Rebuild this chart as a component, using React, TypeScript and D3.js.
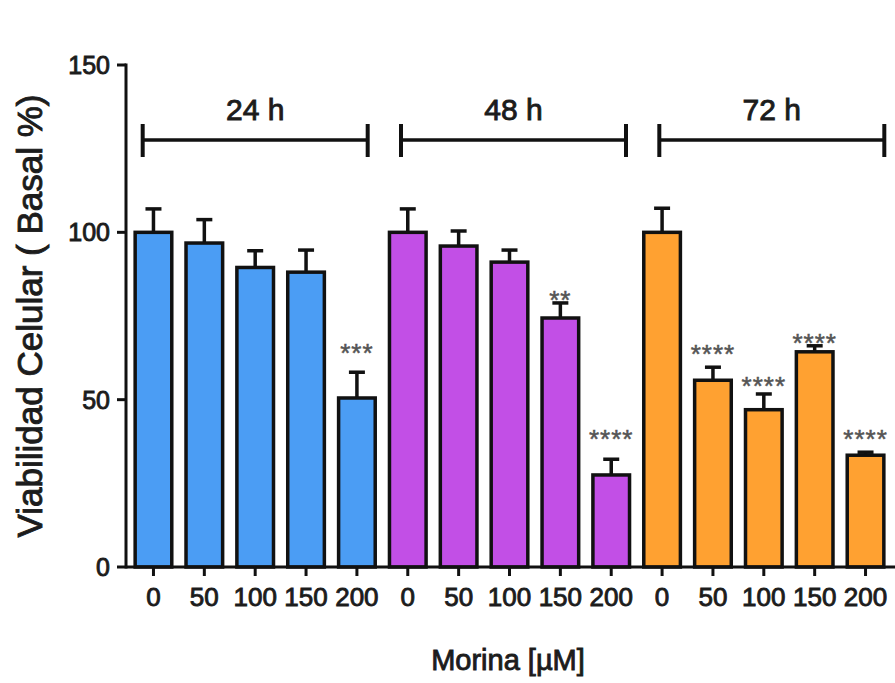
import React from "react";
import * as d3 from "d3";

const groups = ["24 h", "48 h", "72 h"];
const doses = ["0", "50", "100", "150", "200"];
const means24 = [100, 96.8, 89.5, 88.1, 50.5];
const means48 = [100, 95.9, 91.1, 74.4, 27.5];
const means72 = [100, 55.8, 47, 64.3, 33.4];
const sem24 = [7, 7, 5, 6.6, 7.7];
const sem48 = [7, 4.5, 3.6, 4.5, 4.7];
const sem72 = [7.2, 3.9, 4.7, 1.8, 0.9];
const stars24 = ["", "", "", "", "***"];
const stars48 = ["", "", "", "**", "****"];
const stars72 = ["", "****", "****", "****", "****"];
// star label heights (in y-axis units)
const starY24 = [0, 0, 0, 0, 65.7];
const starY48 = [0, 0, 0, 81.5, 40];
const starY72 = [0, 65.4, 55.9, 68.7, 40];
const yTicks = [0, 50, 100, 150];
const colors = ["#4b9df4", "#c24fe6", "#ffa131"];

const W = 895;
const H = 683;
const FONT = "'Liberation Sans', Arial, sans-serif";
const INK = "#1c1c1c";

type Row = { key: string; group: number; dose: string; mean: number; sem: number; star: string; starY: number };

const allMeans = [means24, means48, means72];
const allSem = [sem24, sem48, sem72];
const allStars = [stars24, stars48, stars72];
const allStarY = [starY24, starY48, starY72];

const rows: Row[] = [];
groups.forEach((g, gi) => {
  doses.forEach((d, di) => {
    rows.push({
      key: `${gi}-${d}`,
      group: gi,
      dose: d,
      mean: allMeans[gi][di],
      sem: allSem[gi][di],
      star: allStars[gi][di],
      starY: allStarY[gi][di],
    });
  });
});

const txt = { fill: INK, stroke: INK, strokeWidth: 0.9 };

export default function App() {
  const axisX = 126;
  const y = d3.scaleLinear().domain([0, 150]).range([567, 65]);
  const x = d3
    .scaleBand<string>()
    .domain(rows.map((r) => r.key))
    .range([axisX, 893])
    .paddingInner(0.28)
    .paddingOuter(0.18);
  const bw = x.bandwidth();
  const cx = (k: string) => (x(k) as number) + bw / 2;
  const y0 = y(0);

  return (
    <svg
      width={W}
      height={H}
      style={{ position: "fixed", left: 0, top: 0, background: "#fff" }}
      fontFamily={FONT}
    >
      <rect x={0} y={0} width={W} height={H} fill="#fff" />
      {/* bars */}
      {rows.map((r) => {
        const top = y(r.mean);
        const errTop = y(r.mean + r.sem);
        const c = cx(r.key);
        return (
          <g key={r.key}>
            <line x1={c} x2={c} y1={top} y2={errTop} stroke="#111" strokeWidth={3.5} />
            <line x1={c - 8} x2={c + 8} y1={errTop} y2={errTop} stroke="#111" strokeWidth={3.5} />
            <rect
              x={x(r.key)}
              y={top}
              width={bw}
              height={y0 - top}
              fill={colors[r.group]}
              stroke="#111"
              strokeWidth={3.5}
            />
            {r.star && (
              <text
                x={c}
                y={y(r.starY) + 15}
                textAnchor="middle"
                fontSize={26}
                fill="#555"
                stroke="#555"
                strokeWidth={0.5}
                letterSpacing={1}
              >
                {r.star}
              </text>
            )}
          </g>
        );
      })}
      {/* y axis */}
      <line x1={axisX} x2={axisX} y1={y(150) - 1.5} y2={y0 + 1.5} stroke="#111" strokeWidth={3} />
      {yTicks.map((t) => (
        <g key={t}>
          <line x1={axisX - 9} x2={axisX} y1={y(t)} y2={y(t)} stroke="#111" strokeWidth={3} />
          <text x={axisX - 16} y={y(t)} dy="0.36em" textAnchor="end" fontSize={25} {...txt}>
            {t}
          </text>
        </g>
      ))}
      {/* x axis */}
      <line x1={axisX} x2={W} y1={y0} y2={y0} stroke="#111" strokeWidth={3} />
      {rows.map((r) => (
        <g key={"t" + r.key}>
          <line x1={cx(r.key)} x2={cx(r.key)} y1={y0} y2={y0 + 9} stroke="#111" strokeWidth={3} />
          <text x={cx(r.key)} y={606} textAnchor="middle" fontSize={26} {...txt}>
            {r.dose}
          </text>
        </g>
      ))}
      {/* group brackets */}
      {groups.map((g, gi) => {
        const k0 = `${gi}-${doses[0]}`;
        const k1 = `${gi}-${doses[doses.length - 1]}`;
        const mid = ((x(k0) as number) + (x(k1) as number) + bw) / 2 + gi * 4;
        const half = 112.5;
        const x0 = mid - half;
        const x1 = mid + half;
        return (
          <g key={g}>
            <line x1={x0} x2={x1} y1={140} y2={140} stroke="#111" strokeWidth={3.5} />
            <line x1={x0} x2={x0} y1={124} y2={157} stroke="#111" strokeWidth={4} />
            <line x1={x1} x2={x1} y1={124} y2={157} stroke="#111" strokeWidth={4} />
            <text x={mid} y={120} textAnchor="middle" fontSize={30} {...txt}>
              {g}
            </text>
          </g>
        );
      })}
      {/* axis titles */}
      <text
        transform={`translate(42, 316) rotate(-90)`}
        textAnchor="middle"
        fontSize={35}
        {...txt}
      >
        Viabilidad Celular ( Basal %)
      </text>
      <text x={508} y={670} textAnchor="middle" fontSize={29} {...txt}>
        Morina [µM]
      </text>
    </svg>
  );
}
